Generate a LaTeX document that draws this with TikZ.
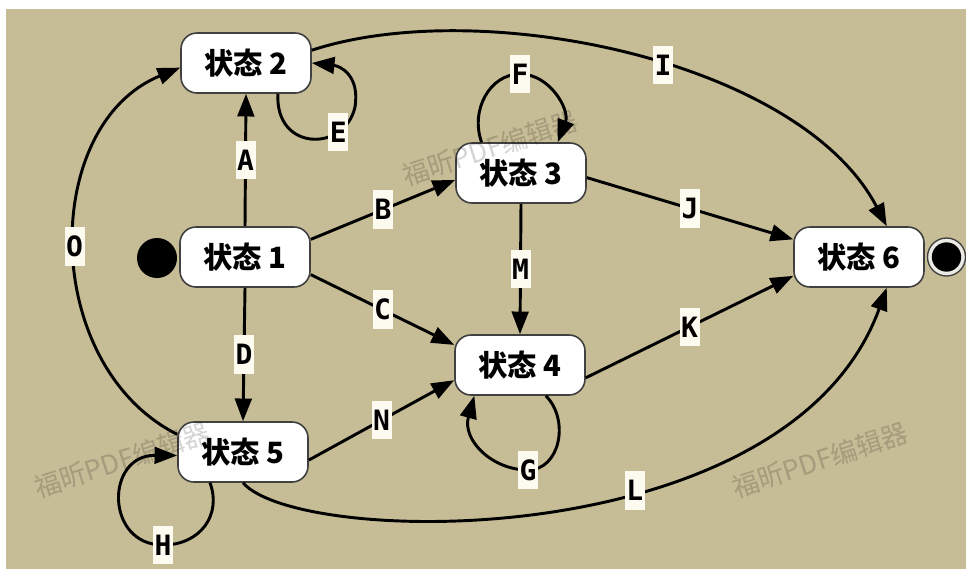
\documentclass[tikz,border=0pt]{standalone}
\usepackage{fontspec}
\newfontfamily\cjk{Noto Sans CJK SC}
\newfontfamily\labfont{DejaVu Sans Mono}
\usetikzlibrary{arrows.meta}
\definecolor{tanbg}{RGB}{198,188,150}
\definecolor{labbg}{RGB}{253,251,240}
\begin{document}
\begin{tikzpicture}[x=0.75pt,y=-0.75pt,
  state/.style={draw=black!75, line width=1.2pt, fill=white, rounded corners=12pt,
    minimum width=97.5pt, minimum height=45pt, inner sep=0pt,
    font=\cjk\bfseries\fontsize{22}{24}\selectfont},
  lab/.style={fill=labbg, inner sep=0pt, minimum width=15pt, minimum height=29pt,
    font=\labfont\bfseries\fontsize{21}{24}\selectfont},
  edge/.style={line width=2.2pt, -{Triangle[length=17pt,width=12.5pt]}},
  wm/.style={text=black, opacity=0.17, font=\cjk\fontsize{20}{22}\selectfont}]
\useasboundingbox (0,0) rectangle (966,569);
\fill[white] (0,0) rectangle (966,569);
\fill[tanbg] (6,9) rectangle (966,569);

\node[state] (s1) at (245,257) {状态 1};
\node[state] (s2) at (246,63) {状态 2};
\node[state] (s3) at (521,173) {状态 3};
\node[state] (s4) at (520,365) {状态 4};
\node[state] (s5) at (243,452) {状态 5};
\node[state] (s6) at (859,257) {状态 6};
\node[circle, fill=black, minimum size=30pt, inner sep=0pt] (init) at (157,258) {};
\node[circle, draw=black!75, line width=1pt, fill=tanbg!80!black!20!white, minimum size=28.5pt, inner sep=0pt] (fin) at (946.5,257) {};
\node[circle, fill=black, minimum size=22pt, inner sep=0pt] (finin) at (fin) {};

\draw[edge] (s1.north) -- node[lab]{A} (s2.south);
\draw[edge] (s1.15) -- node[lab]{B} (s3.186);
\draw[edge] (s1.-15) -- node[lab]{C} (s4.163);
\draw[edge] (s1.south) -- node[lab]{D} (s5.north);
\draw[edge] (s2.-44) .. controls (275,152) and (345,152) .. (355,107) node[lab,pos=0.75]{E}
   .. controls (360,75) and (340,66) .. (s2.east);
\draw[edge] (s3.142) .. controls (470,110) and (490,74) .. (520,74) node[lab]{F}
   .. controls (550,74) and (570,110) .. (s3.40);
\draw[edge] (s4.-50) .. controls (570,420) and (560,470) .. (528,470) node[lab]{G}
   .. controls (492,470) and (462,440) .. (s4.214);
\draw[edge] (s5.223) .. controls (222,515) and (200,545) .. (163,545) node[lab]{H}
   .. controls (105,545) and (105,455) .. (s5.183);
\draw[edge] (s2.11) .. controls (480,-5) and (800,60) .. (s6.48) node[lab,pos=0.55]{I};
\draw[edge] (s3.-4) -- node[lab]{J} (s6.165);
\draw[edge] (s4.-11) -- node[lab]{K} (s6.196);
\draw[edge] (s5.south) .. controls (300,548) and (790,555) .. (s6.-48) node[lab,pos=0.6]{L};
\draw[edge] (s3.south) -- node[lab]{M} (s4.north);
\draw[edge] (s5.-7) -- node[lab]{N} (s4.193);
\draw[edge] (s5.165) .. controls (40,365) and (40,125) .. (s2.184) node[lab,pos=0.5]{O};

\node[wm, rotate=18] (w1) at (490,148) {福昕PDF编辑器};
\node[wm, rotate=18] (w2) at (122,460) {福昕PDF编辑器};
\node[wm, rotate=18] (w3) at (820,460) {福昕PDF编辑器};
\end{tikzpicture}
\end{document}
